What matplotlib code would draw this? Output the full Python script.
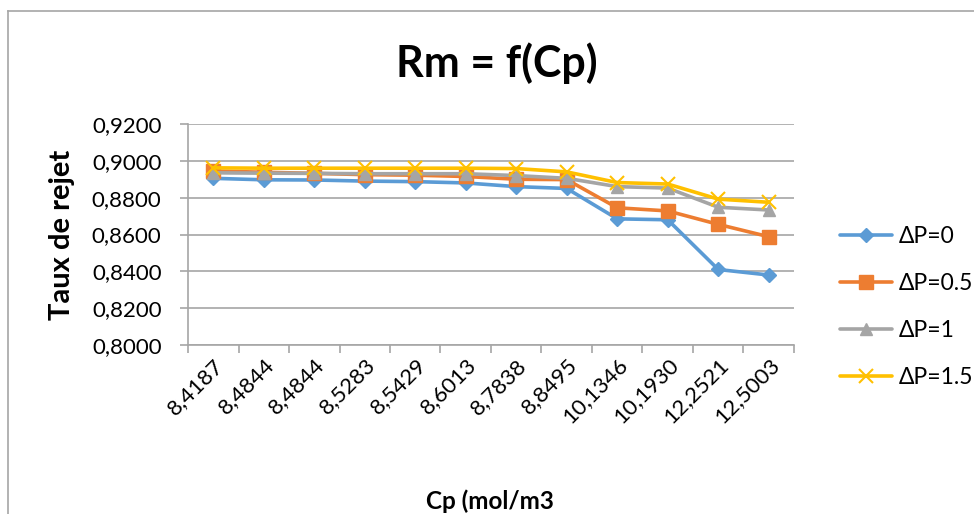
import matplotlib
matplotlib.use("Agg")
import matplotlib.pyplot as plt
from matplotlib.lines import Line2D

plt.rcParams['font.family'] = ['Lato', 'DejaVu Sans']

categories = ["8,4187", "8,4844", "8,4844", "8,5283", "8,5429", "8,6013",
              "8,7838", "8,8495", "10,1346", "10,1930", "12,2521", "12,5003"]
dp0 = [0.8905, 0.8897, 0.8896, 0.8890, 0.8887, 0.8880, 0.8860, 0.8850, 0.8685, 0.8680, 0.8410, 0.8380]
dp05 = [0.8945, 0.8938, 0.8932, 0.8925, 0.8922, 0.8915, 0.8900, 0.8898, 0.8745, 0.8728, 0.8655, 0.8588]
dp1 = [0.8935, 0.8933, 0.8932, 0.8930, 0.8930, 0.8930, 0.8920, 0.8905, 0.8860, 0.8852, 0.8748, 0.8733]
dp15 = [0.8962, 0.8960, 0.8960, 0.8960, 0.8960, 0.8960, 0.8958, 0.8940, 0.8882, 0.8874, 0.8792, 0.8775]
series_names = ["ΔP=0", "ΔP=0.5", "ΔP=1", "ΔP=1.5"]
yticks = [0.80, 0.82, 0.84, 0.86, 0.88, 0.90, 0.92]

colors = ["#5B9BD5", "#ED7D31", "#A5A5A5", "#FFC000"]
markers = ["D", "s", "^", "x"]
msizes = [7.5, 9.5, 9, 10]

fig = plt.figure(figsize=(9.74, 5.14), dpi=100)
ax = fig.add_axes([188/974, 1-345/514, (794-188)/974, (345-124)/514])

x = list(range(len(categories)))
for i, (vals, name) in enumerate(zip([dp0, dp05, dp1, dp15], series_names)):
    kw = dict(color=colors[i], lw=2.6, marker=markers[i], ms=msizes[i],
              label=name, zorder=3 + i, solid_capstyle='round')
    if markers[i] == "x":
        kw.update(markeredgewidth=1.5)
    else:
        kw.update(markeredgecolor=colors[i])
    ax.plot(x, vals, **kw)

ax.set_xlim(-0.5, len(categories) - 0.5)
ax.set_ylim(0.80, 0.92)
ax.set_yticks(yticks)
ax.set_yticklabels([f"{v:.4f}".replace(".", ",") for v in yticks], fontsize=16)
ax.yaxis.grid(True, color="#A6A6A6", lw=1.2)
ax.set_axisbelow(True)

ax.set_xticks(x)
ax.set_xticklabels(categories, rotation=45, ha="right", rotation_mode="anchor", fontsize=16)
ax.tick_params(axis='x', length=0, pad=7)
# category boundary ticks
ax.set_xticks([v - 0.5 for v in range(len(categories) + 1)], minor=True)
ax.tick_params(axis='x', which='minor', length=6, color="#A6A6A6", width=1.2)
ax.tick_params(axis='y', length=6, color="#A6A6A6", width=1.2, pad=13)

for s in ["top", "right"]:
    ax.spines[s].set_visible(False)
for s in ["left", "bottom"]:
    ax.spines[s].set_color("#A6A6A6")
    ax.spines[s].set_linewidth(1.2)

fig.text(497/974, 1-63/514, "Rm = f(Cp)", ha="center", va="center", fontsize=31, fontweight="bold")
fig.text(62/974, 1-235/514, "Taux de rejet", ha="center", va="center", rotation=90,
         fontsize=21, fontweight="bold")
fig.text(490/974, 1-501/514, "Cp (mol/m3", ha="center", va="center", fontsize=17.5, fontweight="bold")

handles, labels = ax.get_legend_handles_labels()
leg = fig.legend(handles, labels, loc="center left", bbox_to_anchor=(819/974, 1-307/514),
                 frameon=False, fontsize=16.5, handlelength=2.27, labelspacing=1.13,
                 handletextpad=0.3)

# chart border (top and left visible)
fig.add_artist(Line2D([8/974, 1], [1-11/514, 1-11/514], color="#A6A6A6", lw=1.2, transform=fig.transFigure))
fig.add_artist(Line2D([8/974, 8/974], [0, 1-11/514], color="#A6A6A6", lw=1.2, transform=fig.transFigure))

fig.savefig("out.png", dpi=100)
